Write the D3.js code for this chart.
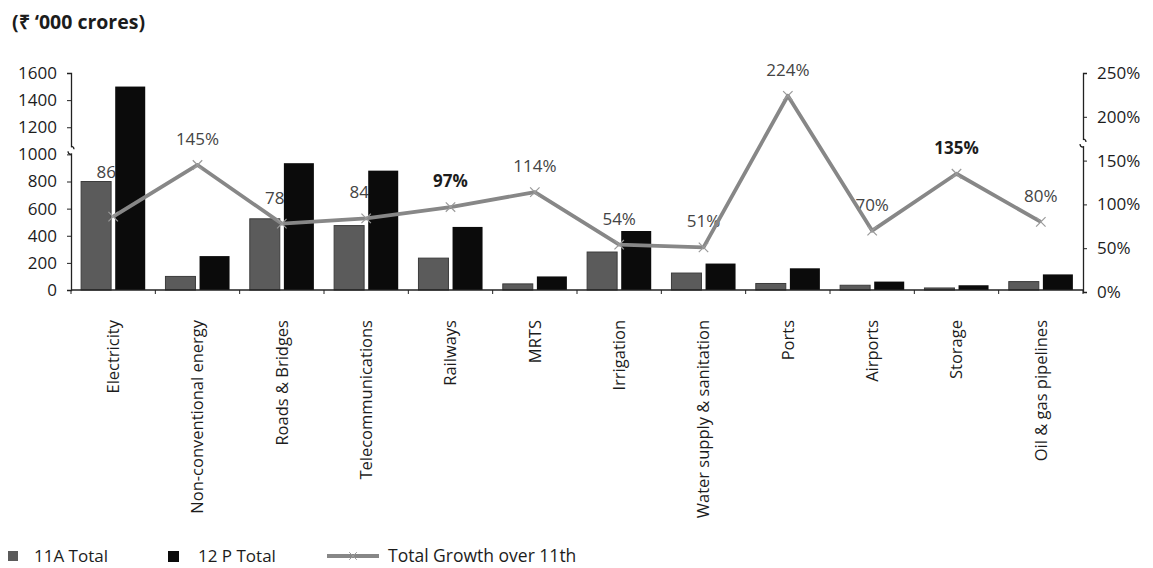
<!DOCTYPE html>
<html>
  <head>
    <title>Infrastructure investment</title>
    <script src="https://d3js.org/d3.v7.min.js"></script>
    <style>
      body { margin: 0; background: #fff; }
      text { font-family: "Open Sans", sans-serif; fill: #1c1c1c; }
    </style>
  </head>
  <body>
  </body>
</html>

<script>
  var width = 1153
  var height = 568

  // data (₹ '000 crores, growth in %)
  var categories = ['Electricity', 'Non-conventional energy', 'Roads & Bridges', 'Telecommunications',
                    'Railways', 'MRTS', 'Irrigation', 'Water supply & sanitation', 'Ports',
                    'Airports', 'Storage', 'Oil & gas pipelines']
  var total11A = [800, 100, 525, 475, 235, 45, 280, 125, 48, 35, 15, 62]
  var total12P = [1500, 250, 935, 880, 465, 100, 435, 195, 160, 62, 35, 115]
  var growth   = [86, 145, 78, 84, 97, 114, 54, 51, 224, 70, 135, 80]

  var leftTicks  = [0, 200, 400, 600, 800, 1000, 1200, 1400, 1600]
  var rightTicks = [0, 50, 100, 150, 200, 250]
  var seriesNames = ['11A Total', '12 P Total', 'Total Growth over 11th']

  // labels shown in bold, and the one label that was lifted off its bar
  var boldLabels = ['Railways', 'Storage']
  var labelLift = { 'Electricity': 19 }

  var greyFill = '#5b5b5b'
  var blackFill = '#0b0b0b'
  var lineColor = '#878787'

  var svg = d3.select('body')
              .append('svg')
              .attr('width', width)
              .attr('height', height)

  svg.append('rect').attr('width', width).attr('height', height).attr('fill', '#fff')

  var plotLeft = 71, plotRight = 1083, base = 290, plotTop = 73

  var x0 = d3.scaleBand()
             .domain(categories)
             .range([plotLeft, plotRight])
             .paddingInner(0.24)
             .paddingOuter(0.12)

  var x1 = d3.scaleBand()
             .domain(['a', 'b'])
             .range([0, x0.bandwidth()])
             .paddingInner(0.12)

  var y = d3.scaleLinear().domain([0, 1600]).range([base, plotTop])
  var yR = d3.scaleLinear().domain([0, 250]).range([base + 2, plotTop])

  var rows = categories.map(function(c, i) {
    return { name: c, a: total11A[i], b: total12P[i], g: growth[i] }
  })

  // title
  svg.append('text')
     .attr('x', 12)
     .attr('y', 29)
     .style('font-size', '19.5px')
     .style('font-weight', 'bold')
     .text('(\u20B9 \u2018000 crores)')

  // left axis
  var yAxis = svg.append('g')
                 .attr('transform', 'translate(' + plotLeft + ',0)')
                 .call(d3.axisLeft(y).tickValues(leftTicks).tickSize(4).tickPadding(10)
                         .tickFormat(d3.format('d')))
  yAxis.select('.domain').attr('stroke', '#222').attr('stroke-width', 1.3)
  yAxis.selectAll('.tick line').attr('stroke', '#222')
  yAxis.selectAll('text').style('font-size', '17px').attr('fill', '#1c1c1c')

  // right axis
  var rAxis = svg.append('g')
                 .attr('transform', 'translate(' + plotRight + ',0)')
                 .call(d3.axisRight(yR).tickValues(rightTicks).tickSize(4).tickPadding(10)
                         .tickFormat(function(d) { return d + '%' }))
  rAxis.select('.domain').attr('stroke', '#222').attr('stroke-width', 1.3)
  rAxis.selectAll('.tick line').attr('stroke', '#222')
  rAxis.selectAll('text').style('font-size', '17px').attr('fill', '#1c1c1c')

  // axis break marks
  function breakMark(cx, cy) {
    svg.append('rect').attr('x', cx - 3).attr('y', cy - 3).attr('width', 6).attr('height', 6).attr('fill', '#fff')
    svg.append('path')
       .attr('d', 'M' + (cx) + ',' + (cy - 4) + ' q3,0 3,3 M' + (cx) + ',' + (cy + 4) + ' q-3,0 -3,-3')
       .attr('fill', 'none').attr('stroke', '#222').attr('stroke-width', 1.2)
  }
  breakMark(plotLeft, y(1030))
  breakMark(plotRight, yR(170))

  // data labels go under the bars, as in the original
  var labels = svg.append('g')
  labels.selectAll('text')
        .data(rows)
        .enter()
        .append('text')
        .attr('x', function(d) { return x0(d.name) + x0.bandwidth() / 2 })
        .attr('y', function(d) { return yR(d.g) - 20 - (labelLift[d.name] || 0) })
        .attr('text-anchor', 'middle')
        .style('font-size', '17px')
        .style('font-weight', function(d) { return boldLabels.indexOf(d.name) >= 0 ? 'bold' : 'normal' })
        .style('fill', function(d) { return boldLabels.indexOf(d.name) >= 0 ? '#1c1c1c' : '#444' })
        .text(function(d) { return d.g + '%' })

  // bars
  var groups = svg.append('g')
                  .selectAll('g')
                  .data(rows)
                  .enter()
                  .append('g')
                  .attr('transform', function(d) { return 'translate(' + x0(d.name) + ',0)' })

  groups.append('rect')
        .attr('x', x1('a'))
        .attr('y', function(d) { return y(d.a) })
        .attr('width', x1.bandwidth())
        .attr('height', function(d) { return base - y(d.a) })
        .attr('fill', greyFill)
        .attr('stroke', '#3c3c3c')
        .attr('stroke-width', 1)

  groups.append('rect')
        .attr('x', x1('b'))
        .attr('y', function(d) { return y(d.b) })
        .attr('width', x1.bandwidth())
        .attr('height', function(d) { return base - y(d.b) })
        .attr('fill', blackFill)

  // x axis line and ticks between categories
  svg.append('line')
     .attr('x1', plotLeft).attr('x2', plotRight)
     .attr('y1', base).attr('y2', base)
     .attr('stroke', '#222').attr('stroke-width', 1.3)

  svg.append('g')
     .selectAll('line')
     .data(d3.range(categories.length + 1))
     .enter()
     .append('line')
     .attr('x1', function(i) { return plotLeft + i * x0.step() })
     .attr('x2', function(i) { return plotLeft + i * x0.step() })
     .attr('y1', base).attr('y2', base + 4)
     .attr('stroke', '#222')

  // category labels
  svg.append('g')
     .selectAll('text')
     .data(categories)
     .enter()
     .append('text')
     .attr('transform', function(d) { return 'translate(' + (x0(d) + x0.bandwidth() / 2) + ',320) rotate(-90)' })
     .attr('text-anchor', 'end')
     .attr('dy', '0.35em')
     .style('font-size', '16.5px')
     .text(function(d) { return d })

  // growth line
  var line = d3.line()
               .x(function(d) { return x0(d.name) + x0.bandwidth() / 2 })
               .y(function(d) { return yR(d.g) })

  svg.append('path')
     .datum(rows)
     .attr('d', line)
     .attr('fill', 'none')
     .attr('stroke', lineColor)
     .attr('stroke-width', 3.8)
     .attr('stroke-linejoin', 'round')

  svg.append('g')
     .selectAll('path')
     .data(rows)
     .enter()
     .append('path')
     .attr('transform', function(d) { return 'translate(' + (x0(d.name) + x0.bandwidth() / 2) + ',' + yR(d.g) + ')' })
     .attr('d', d3.symbol().type(d3.symbolX).size(60))
     .attr('fill', 'none')
     .attr('stroke', '#9a9a9a')
     .attr('stroke-width', 1.2)

  // legend
  var legend = svg.append('g').attr('transform', 'translate(0,556)')
  legend.append('rect').attr('x', 8).attr('y', -5).attr('width', 10).attr('height', 10).attr('fill', greyFill)
  legend.append('text').attr('x', 34).attr('dy', '0.35em').style('font-size', '17px').text(seriesNames[0])
  legend.append('rect').attr('x', 168).attr('y', -5).attr('width', 11).attr('height', 11).attr('fill', blackFill)
  legend.append('text').attr('x', 198).attr('dy', '0.35em').style('font-size', '17px').text(seriesNames[1])
  legend.append('line').attr('x1', 327).attr('x2', 379).attr('y1', 0).attr('y2', 0)
        .attr('stroke', lineColor).attr('stroke-width', 3.8)
  legend.append('path').attr('transform', 'translate(353,0)')
        .attr('d', d3.symbol().type(d3.symbolX).size(40))
        .attr('fill', 'none').attr('stroke', '#9a9a9a')
  legend.append('text').attr('x', 388).attr('dy', '0.35em').style('font-size', '17.5px').text(seriesNames[2])
</script>
